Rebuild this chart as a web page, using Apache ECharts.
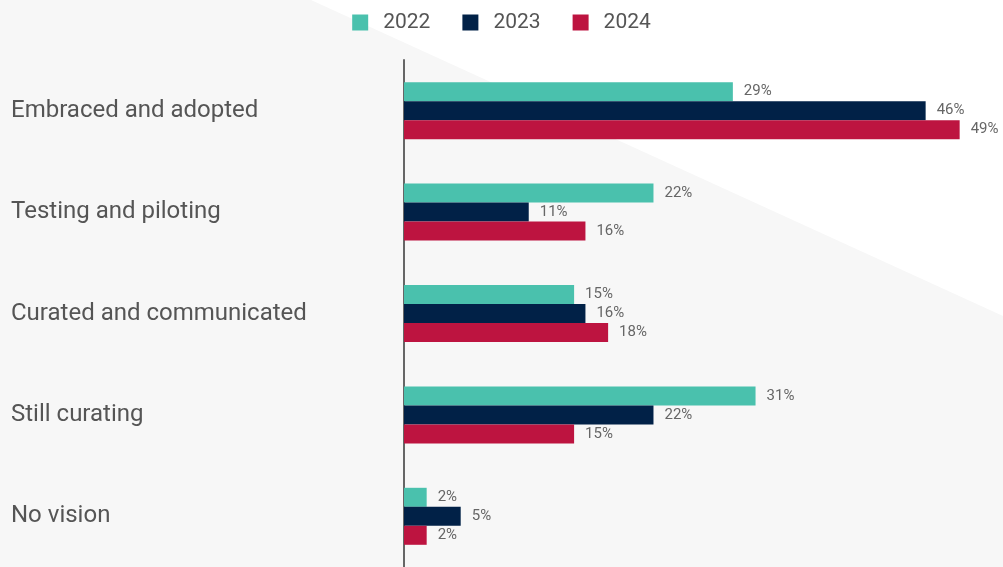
<!DOCTYPE html>
<html>
<head>
<meta charset="utf-8">
<style>
  html, body { margin: 0; padding: 0; background: #f7f7f7; }
  #chart { width: 1003px; height: 567px; }
</style>
<script src="https://cdn.jsdelivr.net/npm/echarts@6/dist/echarts.min.js"></script>
</head>
<body>
<div id="chart"></div>
<script>
// Stages of AI adoption, share of respondents per year
const categories = ['Embraced and adopted', 'Testing and piloting', 'Curated and communicated', 'Still curating', 'No vision'];
const years = ['2022', '2023', '2024'];
const values2022 = [29, 22, 15, 31, 2];
const values2023 = [46, 11, 16, 22, 5];
const values2024 = [49, 16, 18, 15, 2];

const colors = ['#4AC1AD', '#012147', '#BD1440'];
const seriesValues = [values2022, values2023, values2024];

const chart = echarts.init(document.getElementById('chart'), null, { renderer: 'canvas' });

const series = years.map((y, i) => ({
  name: y,
  type: 'bar',
  data: seriesValues[i],
  barWidth: 19,
  barGap: '0%',
  itemStyle: { color: colors[i] },
  label: {
    show: true,
    position: 'right',
    distance: 11,
    padding: [2, 0, 0, 0],
    formatter: '{c}%',
    fontFamily: 'Roboto',
    fontSize: 15,
    color: '#666'
  }
}));

chart.setOption({
  backgroundColor: '#f7f7f7',
  animation: false,
  textStyle: { fontFamily: 'Roboto' },
  graphic: [{
    type: 'polygon',
    z: -10,
    silent: true,
    shape: { points: [[311, 0], [1003, 0], [1003, 316]] },
    style: { fill: '#ffffff' }
  }],
  legend: {
    data: years,
    top: 7,
    left: 'center',
    itemWidth: 16,
    itemHeight: 16,
    itemGap: 32,
    icon: 'rect',
    textStyle: { fontFamily: 'Roboto', fontSize: 21, color: '#555', padding: [0, 0, 0, 10] }
  },
  grid: { left: 404, top: 60, width: 567, height: 508, containLabel: false },
  xAxis: {
    type: 'value',
    min: 0,
    max: 50,
    show: false,
    splitLine: { show: false }
  },
  yAxis: {
    type: 'category',
    data: categories,
    inverse: true,
    axisLine: { show: true, lineStyle: { color: '#666', width: 2 } },
    axisTick: { show: false },
    axisLabel: {
      align: 'left',
      margin: 393,
      padding: [4, 0, 0, 0],
      fontFamily: 'Roboto',
      fontSize: 24,
      color: '#555'
    }
  },
  series: series
});
</script>
</body>
</html>
